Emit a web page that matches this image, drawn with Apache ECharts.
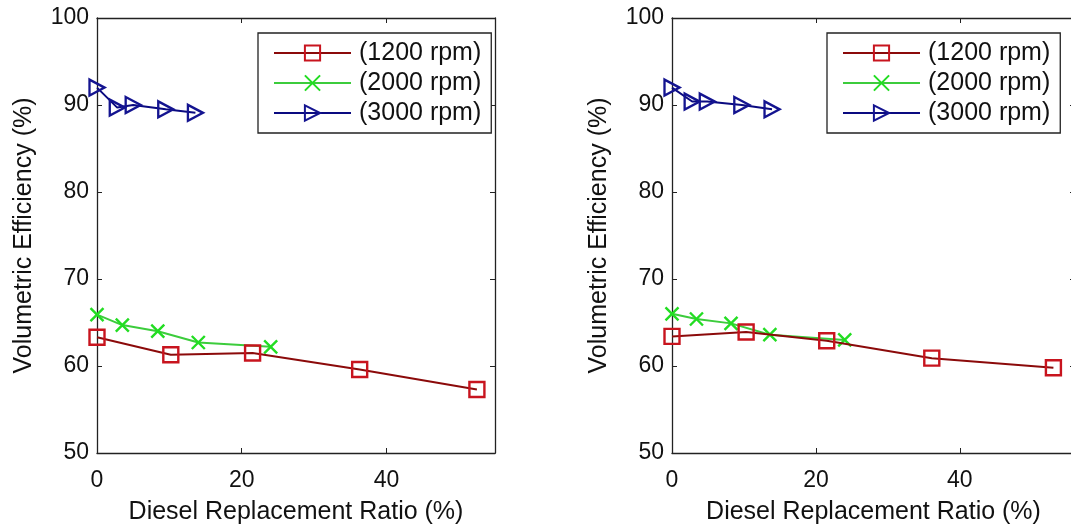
<!DOCTYPE html>
<html>
<head>
<meta charset="utf-8">
<title>Volumetric Efficiency</title>
<script src="https://cdn.jsdelivr.net/npm/echarts@6/dist/echarts.min.js"></script>
<style>
    html, body { margin: 0; padding: 0; background: #fff; }
    #chart { width: 1071px; height: 526px; }
</style>
</head>
<body>
<div id="chart"></div>
<script>
//数据 begin
const SERIES_NAMES = ['(1200 rpm)', '(2000 rpm)', '(3000 rpm)'];

// 左图
const left1200X = [0, 10.2, 21.5, 36.3, 52.5];
const left1200Y = [63.3, 61.3, 61.5, 59.6, 57.3];
const left2000X = [0, 3.5, 8.4, 14.0, 24.0];
const left2000Y = [65.9, 64.7, 64.0, 62.7, 62.2];
const left3000X = [0, 2.8, 5.0, 9.5, 13.6];
const left3000Y = [92.0, 89.7, 90.0, 89.5, 89.1];

// 右图
const right1200X = [0, 10.3, 21.5, 36.1, 53.0];
const right1200Y = [63.4, 63.9, 62.9, 60.9, 59.8];
const right2000X = [0, 3.4, 8.2, 13.6, 24.0];
const right2000Y = [66.0, 65.4, 64.9, 63.6, 63.0];
const right3000X = [0, 2.8, 4.9, 9.7, 13.9];
const right3000Y = [92.0, 90.4, 90.4, 90.0, 89.5];

const X_TICKS = [0, 20, 40];
const Y_TICKS = [50, 60, 70, 80, 90, 100];
//end

const FONT = 'Liberation Sans, Arial, sans-serif';
const TEXT_COLOR = '#111';
const BOX_COLOR = '#222';

// 每条曲线的样式
const STYLES = [
    { line: '#8b0a0a', mark: '#c8141e', symbol: 'rect', size: 15 },
    { line: '#3ccc3c', mark: '#22dd22', symbol: 'path://M0,0 L10,10 M10,0 L0,10', size: 13 },
    { line: '#0a0a80', mark: '#141490', symbol: 'path://M0,0 L10,5 L0,10 Z', size: [15, 16] },
];

function zip(xs, ys) {
    return xs.map((x, i) => [x, ys[i]]);
}

/**
 * 生成一个子图的坐标轴（上下左右四条，模拟 MATLAB 的 box）
 * @param {number} gridIndex 子图序号
 * @param {number} xMax x 轴最大值
 */
function makeAxes(gridIndex, xMax) {
    let xBase = {
        type: 'value', gridIndex: gridIndex, min: 0, max: xMax, interval: 20,
        splitLine: { show: false },
        axisLine: { show: true, onZero: false, lineStyle: { color: BOX_COLOR, width: 1.3 } },
        axisTick: { show: true, inside: true, length: 5, lineStyle: { color: BOX_COLOR } },
    };
    let yBase = {
        type: 'value', gridIndex: gridIndex, min: 50, max: 100, interval: 10,
        splitLine: { show: false },
        axisLine: { show: true, onZero: false, lineStyle: { color: BOX_COLOR, width: 1.3 } },
        axisTick: { show: true, inside: true, length: 5, lineStyle: { color: BOX_COLOR } },
    };
    let xAxes = [
        Object.assign({}, xBase, {
            position: 'bottom',
            name: 'Diesel Replacement Ratio (%)',
            nameLocation: 'middle',
            nameGap: 47,
            nameTextStyle: { fontFamily: FONT, fontSize: 25, color: TEXT_COLOR },
            axisLabel: {
                fontFamily: FONT, fontSize: 23, color: TEXT_COLOR, margin: 16,
                showMaxLabel: false,
                formatter: v => X_TICKS.indexOf(v) >= 0 ? String(v) : '',
            },
        }),
        Object.assign({}, xBase, { position: 'top', axisLabel: { show: false } }),
    ];
    let yAxes = [
        Object.assign({}, yBase, {
            position: 'left',
            name: 'Volumetric Efficiency (%)',
            nameLocation: 'middle',
            nameGap: 60,
            nameTextStyle: { fontFamily: FONT, fontSize: 25, color: TEXT_COLOR },
            axisLabel: {
                fontFamily: FONT, fontSize: 23, color: TEXT_COLOR, margin: 8,
                formatter: v => Y_TICKS.indexOf(v) >= 0 ? String(v) : '',
            },
        }),
        Object.assign({}, yBase, { position: 'right', axisLabel: { show: false } }),
    ];
    return { xAxes, yAxes };
}

/**
 * 生成一个子图的三条曲线
 */
function makeSeries(gridIndex, dataList) {
    return dataList.map((data, i) => ({
        name: SERIES_NAMES[i],
        type: 'line',
        xAxisIndex: gridIndex * 2,
        yAxisIndex: gridIndex * 2,
        data: data,
        symbol: STYLES[i].symbol,
        symbolSize: STYLES[i].size,
        showAllSymbol: true,
        animation: false,
        lineStyle: { color: STYLES[i].line, width: 2 },
        itemStyle: { color: 'rgba(0,0,0,0)', borderColor: STYLES[i].mark, borderWidth: 2.4 },
        emphasis: { disabled: true },
        z: 3 - i,
    }));
}

/**
 * 子图的图例（带边框）
 */
function makeLegend(left, top) {
    return {
        left: left, top: top,
        orient: 'vertical',
        data: SERIES_NAMES,
        backgroundColor: '#fff',
        borderColor: BOX_COLOR,
        borderWidth: 1.3,
        borderRadius: 0,
        padding: [5, 10, 5, 15],
        itemWidth: 77,
        itemHeight: 19,
        itemGap: 0,
        selectedMode: false,
        textStyle: { fontFamily: FONT, fontSize: 25, color: TEXT_COLOR, lineHeight: 30, padding: [0, 0, 0, 3] },
    };
}

function init() {
    let chart = echarts.init(document.getElementById('chart'), null, { renderer: 'canvas' });

    let a0 = makeAxes(0, 55);
    let a1 = makeAxes(1, 56);

    chart.setOption({
        backgroundColor: '#fff',
        animation: false,
        grid: [
            { left: 97, top: 18, width: 398, height: 435, show: false, outerBoundsMode: 'none' },
            { left: 672, top: 18, width: 403, height: 435, show: false, outerBoundsMode: 'none' },
        ],
        xAxis: a0.xAxes.concat(a1.xAxes),
        yAxis: a0.yAxes.concat(a1.yAxes),
        legend: [makeLegend(258, 33), makeLegend(827, 33)],
        series: makeSeries(0, [
            zip(left1200X, left1200Y),
            zip(left2000X, left2000Y),
            zip(left3000X, left3000Y),
        ]).concat(makeSeries(1, [
            zip(right1200X, right1200Y),
            zip(right2000X, right2000Y),
            zip(right3000X, right3000Y),
        ])),
    });
    return chart;
}

init();
</script>
</body>
</html>
